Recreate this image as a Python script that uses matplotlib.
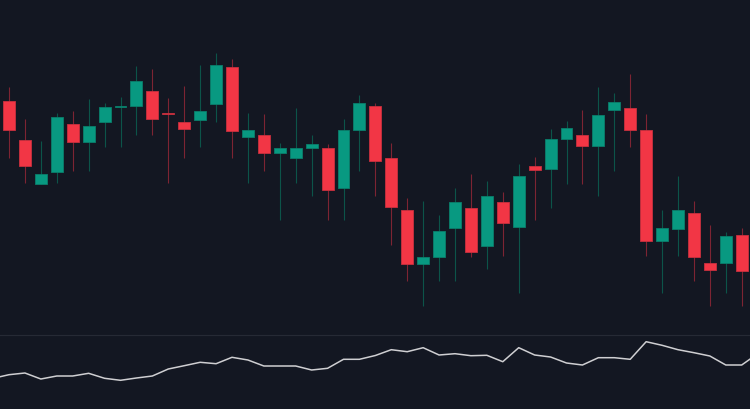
import matplotlib
matplotlib.use("Agg")
import matplotlib.pyplot as plt
import numpy as np

# candle data (price units)
opens = [234.3, 195.3, 151.3, 163.3, 210.7, 192.7, 212.7, 228.0, 229.3, 244.0,
         222.0, 212.7, 214.7, 230.7, 267.7, 197.7, 200.0, 181.7, 176.7, 186.7,
         187.0, 147.3, 205.0, 229.3, 177.0, 124.7, 70.7, 77.7, 107.3, 126.7,
         89.0, 133.3, 108.3, 168.7, 165.7, 196.3, 199.7, 188.7, 225.3, 227.0,
         205.0, 93.7, 106.3, 122.0, 72.0, 71.7, 100.3]
highs = [247.7, 216.0, 194.0, 222.0, 223.7, 235.7, 232.0, 238.0, 268.7, 266.0,
         236.7, 249.3, 270.0, 282.3, 276.0, 222.0, 221.0, 192.0, 227.0, 200.0,
         191.0, 216.3, 240.3, 231.7, 192.0, 137.0, 134.3, 119.7, 147.0, 161.0,
         153.7, 142.7, 170.7, 178.0, 206.3, 214.0, 225.0, 247.7, 242.0, 261.3,
         221.0, 124.7, 159.0, 134.3, 110.3, 103.0, 107.0]
lows = [176.7, 151.7, 151.0, 151.7, 163.7, 163.7, 188.3, 188.3, 200.3, 200.3,
        151.7, 176.7, 188.3, 213.0, 176.7, 151.7, 163.7, 115.3, 151.7, 139.3,
        115.3, 115.3, 163.7, 139.3, 90.3, 53.7, 29.3, 53.7, 53.7, 78.3,
        65.7, 78.7, 42.0, 115.0, 127.3, 151.3, 151.3, 139.3, 163.7, 188.3,
        78.7, 42.0, 78.7, 54.0, 29.3, 42.0, 29.3]
closes = [205.3, 168.7, 161.3, 218.3, 192.7, 208.7, 228.0, 229.3, 253.7, 216.0,
          220.7, 206.0, 223.7, 269.7, 203.7, 205.3, 181.7, 187.0, 187.0, 190.7,
          145.0, 205.3, 232.0, 174.3, 128.3, 70.7, 78.3, 103.7, 133.0, 82.7,
          139.3, 112.0, 158.7, 164.7, 196.3, 207.3, 188.7, 220.0, 233.0, 205.3,
          93.7, 107.3, 124.7, 78.0, 65.3, 99.3, 64.3]

# indicator line (starts one bar before the first visible candle)
indicator = [30.7, 34.3, 36.0, 30.0, 33.0, 33.0, 35.7, 30.7, 28.7, 31.0,
             33.0, 40.0, 43.3, 46.7, 45.3, 51.7, 49.0, 43.0, 43.0, 43.0,
             39.0, 40.7, 49.7, 49.7, 53.5, 59.3, 57.3, 61.3, 54.0, 55.3,
             53.3, 53.7, 47.3, 61.3, 54.0, 52.0, 46.0, 44.0, 51.3, 51.3,
             49.7, 67.3, 63.7, 59.3, 56.3, 53.0, 44.0, 44.0, 55.3]

bg = "#131722"
up_col, dn_col = "#089981", "#f23645"
up_edge, dn_edge = "#0a7f6c", "#c9303e"
up_wick, dn_wick = "#0c5449", "#7d2433"

o = np.array(opens)
h = np.array(highs)
l = np.array(lows)
c = np.array(closes)
x = np.arange(len(o))
up = c >= o

fig = plt.figure(figsize=(7.5, 4.1), dpi=100, facecolor=bg)
ax = fig.add_axes([0, 74 / 410, 1, 336 / 410], facecolor=bg)
ax2 = fig.add_axes([0, 0, 1, 74 / 410], facecolor=bg)

ax.vlines(x[up], l[up], h[up], color=up_wick, linewidth=0.8, zorder=1)
ax.vlines(x[~up], l[~up], h[~up], color=dn_wick, linewidth=0.8, zorder=1)
ax.bar(x[up], c[up] - o[up], bottom=o[up], width=0.75,
       color=up_col, edgecolor=up_edge, linewidth=0.6, zorder=2)
ax.bar(x[~up], c[~up] - o[~up], bottom=o[~up], width=0.75,
       color=dn_col, edgecolor=dn_edge, linewidth=0.6, zorder=2)

xlim = (-0.565, 46.52)
ax.set_xlim(*xlim)
ax.set_ylim(0, 336)
ax.axis("off")

xi = np.arange(-1, len(indicator) - 1)
ax2.plot(xi, indicator, color="#cfcfd2", linewidth=1.1)
ax2.set_xlim(*xlim)
ax2.set_ylim(0, 74)
ax2.set_xticks([])
ax2.set_yticks([])
for s in ["left", "right", "bottom"]:
    ax2.spines[s].set_visible(False)
ax2.spines["top"].set_color("#262a35")
ax2.spines["top"].set_linewidth(0.8)

fig.savefig("out.png", dpi=100, facecolor=bg)
